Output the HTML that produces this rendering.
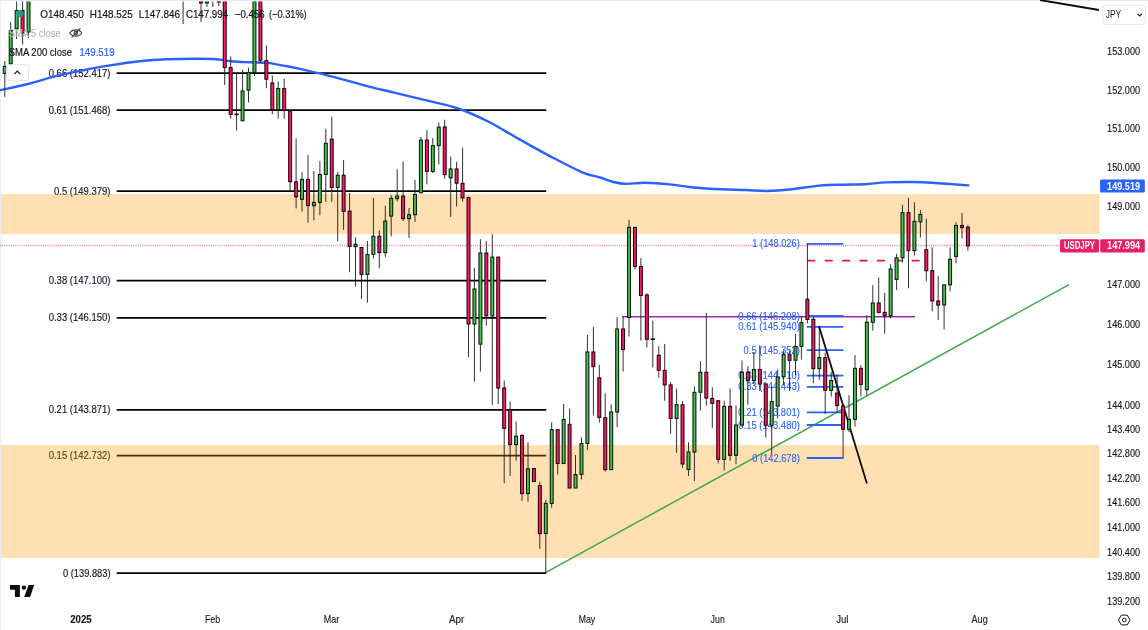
<!DOCTYPE html>
<html lang="en"><head><meta charset="utf-8"><title>USDJPY chart</title>
<style>
html,body{margin:0;padding:0;background:#fff;}
body{width:1148px;height:630px;overflow:hidden;font-family:"Liberation Sans",sans-serif;}
svg{display:block;position:absolute;left:0;top:0;}
text{font-family:"Liberation Sans",sans-serif;}
.fl{font-size:10.3px;fill:#131722;stroke:#131722;stroke-width:0.15px;}
.bl{font-size:10.3px;fill:#2962ff;stroke:#2962ff;stroke-width:0.12px;}
.ax{font-size:10.4px;fill:#131722;stroke:#131722;stroke-width:0.15px;}
.tx{font-size:10.3px;fill:#131722;stroke:#131722;stroke-width:0.12px;}
.lg{font-size:10.7px;fill:#131722;stroke:#131722;stroke-width:0.2px;}
</style></head><body>
<svg width="1148" height="630" viewBox="0 0 1148 630">
<rect x="0" y="0" width="1148" height="630" fill="#ffffff"/>
<rect x="0" y="0" width="1148" height="1" fill="#e6e8ec"/>
<rect x="0" y="0" width="1" height="630" fill="#eceef1"/>
<g id="fib">
<line x1="116.7" y1="73" x2="546.2" y2="73" stroke="#000" stroke-width="1.75"/>
<text class="fl" x="110.5" y="76.5" text-anchor="end" textLength="61.8" lengthAdjust="spacingAndGlyphs">0.66 (152.417)</text>
<line x1="116.7" y1="110" x2="546.2" y2="110" stroke="#000" stroke-width="1.75"/>
<text class="fl" x="110.5" y="113.5" text-anchor="end" textLength="61.8" lengthAdjust="spacingAndGlyphs">0.61 (151.468)</text>
<line x1="116.7" y1="191" x2="546.2" y2="191" stroke="#000" stroke-width="1.75"/>
<text class="fl" x="110.5" y="194.5" text-anchor="end" textLength="56.5" lengthAdjust="spacingAndGlyphs">0.5 (149.379)</text>
<line x1="116.7" y1="280.5" x2="546.2" y2="280.5" stroke="#000" stroke-width="1.75"/>
<text class="fl" x="110.5" y="284.0" text-anchor="end" textLength="61.8" lengthAdjust="spacingAndGlyphs">0.38 (147.100)</text>
<line x1="116.7" y1="317.8" x2="546.2" y2="317.8" stroke="#000" stroke-width="1.75"/>
<text class="fl" x="110.5" y="321.3" text-anchor="end" textLength="61.8" lengthAdjust="spacingAndGlyphs">0.33 (146.150)</text>
<line x1="116.7" y1="409.8" x2="546.2" y2="409.8" stroke="#000" stroke-width="1.75"/>
<text class="fl" x="110.5" y="413.3" text-anchor="end" textLength="61.8" lengthAdjust="spacingAndGlyphs">0.21 (143.871)</text>
<line x1="116.7" y1="455.6" x2="546.2" y2="455.6" stroke="#000" stroke-width="1.75"/>
<text class="fl" x="110.5" y="459.1" text-anchor="end" textLength="61.8" lengthAdjust="spacingAndGlyphs">0.15 (142.732)</text>
<line x1="116.7" y1="573" x2="546.2" y2="573" stroke="#000" stroke-width="1.75"/>
<text class="fl" x="110.5" y="576.5" text-anchor="end" textLength="47.5" lengthAdjust="spacingAndGlyphs">0 (139.883)</text>
</g>
<rect x="1" y="194" width="1098.5" height="40" fill="rgba(255,152,0,0.3)"/>
<rect x="1" y="445" width="1098.5" height="113" fill="rgba(255,152,0,0.3)"/>
<line x1="0" y1="245.5" x2="1060" y2="245.5" stroke="#ec3a78" stroke-width="1.7" stroke-dasharray="1.05 1.1" opacity="0.62"/>
<line x1="546" y1="572.4" x2="1069" y2="284.6" stroke="#3fa845" stroke-width="1.5"/>
<line x1="622" y1="316.8" x2="915" y2="316.8" stroke="#9c27b0" stroke-width="1.6"/>
<g id="bfib">
<line x1="806.8" y1="243.8" x2="843.4" y2="243.8" stroke="#2962ff" stroke-width="1.8"/>
<text class="bl" x="799.8" y="247.3" text-anchor="end" textLength="47.5" lengthAdjust="spacingAndGlyphs">1 (148.026)</text>
<line x1="806.8" y1="316" x2="843.4" y2="316" stroke="#2962ff" stroke-width="1.8"/>
<text class="bl" x="799.8" y="319.5" text-anchor="end" textLength="61.5" lengthAdjust="spacingAndGlyphs">0.66 (146.208)</text>
<line x1="806.8" y1="326.8" x2="843.4" y2="326.8" stroke="#2962ff" stroke-width="1.8"/>
<text class="bl" x="799.8" y="330.3" text-anchor="end" textLength="61.5" lengthAdjust="spacingAndGlyphs">0.61 (145.940)</text>
<line x1="806.8" y1="350.2" x2="843.4" y2="350.2" stroke="#2962ff" stroke-width="1.8"/>
<text class="bl" x="799.8" y="353.7" text-anchor="end" textLength="56.2" lengthAdjust="spacingAndGlyphs">0.5 (145.352)</text>
<line x1="806.8" y1="375.6" x2="843.4" y2="375.6" stroke="#2962ff" stroke-width="1.8"/>
<text class="bl" x="799.8" y="379.1" text-anchor="end" textLength="61.5" lengthAdjust="spacingAndGlyphs">0.38 (144.710)</text>
<line x1="806.8" y1="386.8" x2="843.4" y2="386.8" stroke="#2962ff" stroke-width="1.8"/>
<text class="bl" x="799.8" y="390.3" text-anchor="end" textLength="61.5" lengthAdjust="spacingAndGlyphs">0.33 (144.443)</text>
<line x1="806.8" y1="412.4" x2="843.4" y2="412.4" stroke="#2962ff" stroke-width="1.8"/>
<text class="bl" x="799.8" y="415.9" text-anchor="end" textLength="61.5" lengthAdjust="spacingAndGlyphs">0.21 (143.801)</text>
<line x1="806.8" y1="425" x2="843.4" y2="425" stroke="#2962ff" stroke-width="1.8"/>
<text class="bl" x="799.8" y="428.5" text-anchor="end" textLength="61.5" lengthAdjust="spacingAndGlyphs">0.15 (143.480)</text>
<line x1="806.8" y1="458" x2="843.4" y2="458" stroke="#2962ff" stroke-width="1.8"/>
<text class="bl" x="799.8" y="461.5" text-anchor="end" textLength="47.5" lengthAdjust="spacingAndGlyphs">0 (142.678)</text>
</g>
<line x1="807.3" y1="260.6" x2="920" y2="260.6" stroke="#f0142f" stroke-width="1.7" stroke-dasharray="8 9.4"/>
<path d="M0,90.2 C4.6,89.2 18.6,86.3 27.9,84 C37.2,81.7 46.4,78.5 55.7,76.2 C65.0,73.9 74.3,71.9 83.6,70.1 C92.9,68.2 102.2,66.6 111.5,65.1 C120.8,63.6 130.1,62.2 139.4,61.2 C148.7,60.2 157.9,59.6 167.2,59.2 C176.5,58.8 187.2,58.7 195.1,58.7 C203.0,58.7 208.5,58.6 214.6,59 C220.7,59.4 225.3,60.7 231.4,61.2 C237.5,61.8 244.9,62.0 250.9,62.3 C256.9,62.6 261.9,62.3 267.6,62.9 C273.3,63.5 279.5,64.9 284.9,65.9 C290.3,66.9 294.4,67.6 300,68.8 C305.6,70.0 312.4,71.7 318.4,73.2 C324.4,74.7 329.9,76.0 336,77.6 C342.1,79.2 349.4,81.2 354.7,82.7 C360.0,84.2 361.4,84.8 368,86.4 C374.6,88.1 384.5,90.3 394.1,92.6 C403.7,94.9 414.9,97.6 425.4,100.2 C435.8,102.8 446.4,104.5 456.8,108 C467.2,111.5 477.7,116.3 488.1,121.5 C498.6,126.7 509.0,133.6 519.5,139.4 C530.0,145.2 540.4,151.1 550.9,156.6 C561.4,162.1 574.0,168.8 582.2,172.3 C590.4,175.8 594.8,175.9 600,177.5 C605.2,179.1 609.2,180.9 613.6,182 C618.0,183.1 620.8,183.8 626.1,183.9 C631.4,184.0 638.0,182.7 645.3,182.8 C652.6,182.9 661.6,183.6 669.7,184.4 C677.8,185.2 685.3,186.7 694,187.5 C702.7,188.3 713.3,188.9 722,189.3 C730.7,189.7 738.8,189.7 746.3,190 C753.8,190.3 759.7,191.1 767.2,191 C774.8,190.9 782.9,190.2 791.6,189.3 C800.3,188.4 810.8,186.4 819.5,185.6 C828.2,184.8 836.4,184.9 843.9,184.7 C851.4,184.5 857.8,184.6 864.8,184.2 C871.8,183.8 877.6,182.8 885.7,182.4 C893.8,182.0 905.5,181.9 913.6,182 C921.7,182.1 925.4,182.4 934.5,183 C943.6,183.6 962.7,185.0 968.3,185.4" fill="none" stroke="#2962ff" stroke-width="2.4" stroke-linecap="round"/>
<line x1="818.9" y1="326.1" x2="866.9" y2="483.4" stroke="#0b0b0b" stroke-width="1.8"/>
<clipPath id="cc"><rect x="1" y="1.6" width="1147" height="628"/></clipPath>
<g id="candles" clip-path="url(#cc)">
<line x1="4.8" y1="61" x2="4.8" y2="97" stroke="#1c1c1c" stroke-width="1" opacity="0.9"/>
<rect x="3.30" y="66.4" width="2.9" height="7.0" fill="#50c054" stroke="#06200a" stroke-width="1.1"/>
<line x1="10.7" y1="22" x2="10.7" y2="67" stroke="#1c1c1c" stroke-width="1" opacity="0.9"/>
<rect x="9.25" y="30.5" width="2.9" height="33.3" fill="#50c054" stroke="#06200a" stroke-width="1.1"/>
<line x1="16.6" y1="-2" x2="16.6" y2="39" stroke="#1c1c1c" stroke-width="1" opacity="0.9"/>
<rect x="15.19" y="10.5" width="2.9" height="18.3" fill="#50c054" stroke="#06200a" stroke-width="1.1"/>
<line x1="22.6" y1="-2" x2="22.6" y2="44.5" stroke="#1c1c1c" stroke-width="1" opacity="0.9"/>
<rect x="21.14" y="10.5" width="2.9" height="22.5" fill="#f71d66" stroke="#2b0311" stroke-width="1.1"/>
<line x1="28.5" y1="-2" x2="28.5" y2="38" stroke="#1c1c1c" stroke-width="1" opacity="0.9"/>
<rect x="27.08" y="-2.0" width="2.9" height="34.0" fill="#50c054" stroke="#06200a" stroke-width="1.1"/>
<line x1="183.1" y1="-2" x2="183.1" y2="24" stroke="#1c1c1c" stroke-width="1" opacity="0.9"/>
<line x1="201.0" y1="-2" x2="201.0" y2="22" stroke="#1c1c1c" stroke-width="1" opacity="0.9"/>
<rect x="199.50" y="-2.0" width="2.9" height="5.0" fill="#f71d66" stroke="#2b0311" stroke-width="1.1"/>
<line x1="206.9" y1="-2" x2="206.9" y2="7" stroke="#1c1c1c" stroke-width="1" opacity="0.9"/>
<rect x="205.45" y="-2.0" width="2.9" height="5.0" fill="#50c054" stroke="#06200a" stroke-width="1.1"/>
<line x1="212.8" y1="-2" x2="212.8" y2="7" stroke="#1c1c1c" stroke-width="1" opacity="0.9"/>
<line x1="218.8" y1="-2" x2="218.8" y2="6" stroke="#1c1c1c" stroke-width="1" opacity="0.9"/>
<rect x="217.34" y="-2.0" width="2.9" height="4.0" fill="#f71d66" stroke="#2b0311" stroke-width="1.1"/>
<line x1="224.7" y1="-2" x2="224.7" y2="85" stroke="#1c1c1c" stroke-width="1" opacity="0.9"/>
<rect x="223.28" y="-2.0" width="2.9" height="69.6" fill="#f71d66" stroke="#2b0311" stroke-width="1.1"/>
<line x1="230.7" y1="56.4" x2="230.7" y2="118.6" stroke="#1c1c1c" stroke-width="1" opacity="0.9"/>
<rect x="229.23" y="67.6" width="2.9" height="46.8" fill="#f71d66" stroke="#2b0311" stroke-width="1.1"/>
<line x1="236.6" y1="73.9" x2="236.6" y2="130.5" stroke="#1c1c1c" stroke-width="1" opacity="0.9"/>
<rect x="234.4" y="113.6" width="4.4" height="1.6" fill="#111"/>
<line x1="242.6" y1="69.7" x2="242.6" y2="121" stroke="#1c1c1c" stroke-width="1" opacity="0.9"/>
<rect x="241.12" y="91.0" width="2.9" height="29.7" fill="#50c054" stroke="#06200a" stroke-width="1.1"/>
<line x1="248.5" y1="67.6" x2="248.5" y2="102.5" stroke="#1c1c1c" stroke-width="1" opacity="0.9"/>
<rect x="247.07" y="72.5" width="2.9" height="17.7" fill="#50c054" stroke="#06200a" stroke-width="1.1"/>
<line x1="254.5" y1="-2" x2="254.5" y2="76" stroke="#1c1c1c" stroke-width="1" opacity="0.9"/>
<rect x="253.01" y="-2.0" width="2.9" height="74.5" fill="#50c054" stroke="#06200a" stroke-width="1.1"/>
<line x1="260.4" y1="-2" x2="260.4" y2="63" stroke="#1c1c1c" stroke-width="1" opacity="0.9"/>
<rect x="258.96" y="-2.0" width="2.9" height="62.3" fill="#f71d66" stroke="#2b0311" stroke-width="1.1"/>
<line x1="266.4" y1="45.4" x2="266.4" y2="88.3" stroke="#1c1c1c" stroke-width="1" opacity="0.9"/>
<rect x="264.90" y="60.6" width="2.9" height="18.6" fill="#f71d66" stroke="#2b0311" stroke-width="1.1"/>
<line x1="272.3" y1="75.6" x2="272.3" y2="114.4" stroke="#1c1c1c" stroke-width="1" opacity="0.9"/>
<rect x="270.85" y="83.0" width="2.9" height="26.8" fill="#f71d66" stroke="#2b0311" stroke-width="1.1"/>
<line x1="278.2" y1="81.5" x2="278.2" y2="118.6" stroke="#1c1c1c" stroke-width="1" opacity="0.9"/>
<rect x="276.79" y="88.5" width="2.9" height="21.3" fill="#50c054" stroke="#06200a" stroke-width="1.1"/>
<line x1="284.2" y1="78.5" x2="284.2" y2="118.6" stroke="#1c1c1c" stroke-width="1" opacity="0.9"/>
<rect x="282.74" y="88.5" width="2.9" height="21.9" fill="#f71d66" stroke="#2b0311" stroke-width="1.1"/>
<line x1="290.1" y1="110.5" x2="290.1" y2="191" stroke="#1c1c1c" stroke-width="1" opacity="0.9"/>
<rect x="288.68" y="110.9" width="2.9" height="70.7" fill="#f71d66" stroke="#2b0311" stroke-width="1.1"/>
<line x1="296.1" y1="138.3" x2="296.1" y2="208.4" stroke="#1c1c1c" stroke-width="1" opacity="0.9"/>
<rect x="294.63" y="181.9" width="2.9" height="14.9" fill="#f71d66" stroke="#2b0311" stroke-width="1.1"/>
<line x1="302.0" y1="172" x2="302.0" y2="211.5" stroke="#1c1c1c" stroke-width="1" opacity="0.9"/>
<rect x="300.57" y="179.4" width="2.9" height="19.9" fill="#50c054" stroke="#06200a" stroke-width="1.1"/>
<line x1="308.0" y1="155" x2="308.0" y2="222.8" stroke="#1c1c1c" stroke-width="1" opacity="0.9"/>
<rect x="306.52" y="179.4" width="2.9" height="26.2" fill="#f71d66" stroke="#2b0311" stroke-width="1.1"/>
<line x1="313.9" y1="171" x2="313.9" y2="220.3" stroke="#1c1c1c" stroke-width="1" opacity="0.9"/>
<rect x="312.47" y="202.4" width="2.9" height="3.2" fill="#50c054" stroke="#06200a" stroke-width="1.1"/>
<line x1="319.9" y1="160.9" x2="319.9" y2="215.4" stroke="#1c1c1c" stroke-width="1" opacity="0.9"/>
<rect x="318.41" y="174.5" width="2.9" height="27.9" fill="#50c054" stroke="#06200a" stroke-width="1.1"/>
<line x1="325.8" y1="128.8" x2="325.8" y2="201.9" stroke="#1c1c1c" stroke-width="1" opacity="0.9"/>
<rect x="324.36" y="143.4" width="2.9" height="31.0" fill="#50c054" stroke="#06200a" stroke-width="1.1"/>
<line x1="331.8" y1="116.9" x2="331.8" y2="201.9" stroke="#1c1c1c" stroke-width="1" opacity="0.9"/>
<rect x="330.30" y="139.2" width="2.9" height="48.3" fill="#f71d66" stroke="#2b0311" stroke-width="1.1"/>
<line x1="337.7" y1="171.8" x2="337.7" y2="241.3" stroke="#1c1c1c" stroke-width="1" opacity="0.9"/>
<rect x="336.25" y="175.3" width="2.9" height="12.2" fill="#50c054" stroke="#06200a" stroke-width="1.1"/>
<line x1="343.6" y1="160" x2="343.6" y2="230" stroke="#1c1c1c" stroke-width="1" opacity="0.9"/>
<rect x="342.19" y="175.3" width="2.9" height="36.1" fill="#f71d66" stroke="#2b0311" stroke-width="1.1"/>
<line x1="349.6" y1="193" x2="349.6" y2="272.3" stroke="#1c1c1c" stroke-width="1" opacity="0.9"/>
<rect x="348.14" y="211.2" width="2.9" height="35.3" fill="#f71d66" stroke="#2b0311" stroke-width="1.1"/>
<line x1="355.5" y1="237.5" x2="355.5" y2="286.6" stroke="#1c1c1c" stroke-width="1" opacity="0.9"/>
<rect x="354.08" y="244.3" width="2.9" height="2.3" fill="#50c054" stroke="#06200a" stroke-width="1.1"/>
<line x1="361.5" y1="247" x2="361.5" y2="298.8" stroke="#1c1c1c" stroke-width="1" opacity="0.9"/>
<rect x="360.03" y="247.5" width="2.9" height="26.9" fill="#f71d66" stroke="#2b0311" stroke-width="1.1"/>
<line x1="367.4" y1="240.9" x2="367.4" y2="302.7" stroke="#1c1c1c" stroke-width="1" opacity="0.9"/>
<rect x="365.98" y="254.5" width="2.9" height="19.9" fill="#50c054" stroke="#06200a" stroke-width="1.1"/>
<line x1="373.4" y1="198" x2="373.4" y2="258.6" stroke="#1c1c1c" stroke-width="1" opacity="0.9"/>
<rect x="371.92" y="236.2" width="2.9" height="18.2" fill="#50c054" stroke="#06200a" stroke-width="1.1"/>
<line x1="379.3" y1="230.4" x2="379.3" y2="268.4" stroke="#1c1c1c" stroke-width="1" opacity="0.9"/>
<rect x="377.87" y="236.2" width="2.9" height="16.4" fill="#f71d66" stroke="#2b0311" stroke-width="1.1"/>
<line x1="385.3" y1="205.6" x2="385.3" y2="257.2" stroke="#1c1c1c" stroke-width="1" opacity="0.9"/>
<rect x="383.81" y="221.0" width="2.9" height="31.6" fill="#50c054" stroke="#06200a" stroke-width="1.1"/>
<line x1="391.2" y1="195.2" x2="391.2" y2="236.4" stroke="#1c1c1c" stroke-width="1" opacity="0.9"/>
<rect x="389.76" y="198.4" width="2.9" height="17.7" fill="#50c054" stroke="#06200a" stroke-width="1.1"/>
<line x1="397.2" y1="169.3" x2="397.2" y2="201.4" stroke="#1c1c1c" stroke-width="1" opacity="0.9"/>
<rect x="395.70" y="196.1" width="2.9" height="2.5" fill="#50c054" stroke="#06200a" stroke-width="1.1"/>
<line x1="403.1" y1="161.3" x2="403.1" y2="221" stroke="#1c1c1c" stroke-width="1" opacity="0.9"/>
<rect x="401.65" y="196.1" width="2.9" height="22.5" fill="#f71d66" stroke="#2b0311" stroke-width="1.1"/>
<line x1="409.0" y1="208" x2="409.0" y2="238" stroke="#1c1c1c" stroke-width="1" opacity="0.9"/>
<rect x="407.59" y="214.7" width="2.9" height="3.9" fill="#50c054" stroke="#06200a" stroke-width="1.1"/>
<line x1="415.0" y1="179.8" x2="415.0" y2="222" stroke="#1c1c1c" stroke-width="1" opacity="0.9"/>
<rect x="413.54" y="194.5" width="2.9" height="20.2" fill="#50c054" stroke="#06200a" stroke-width="1.1"/>
<line x1="420.9" y1="137" x2="420.9" y2="193" stroke="#1c1c1c" stroke-width="1" opacity="0.9"/>
<rect x="419.49" y="140.1" width="2.9" height="52.7" fill="#50c054" stroke="#06200a" stroke-width="1.1"/>
<line x1="426.9" y1="130.2" x2="426.9" y2="184.4" stroke="#1c1c1c" stroke-width="1" opacity="0.9"/>
<rect x="425.43" y="140.1" width="2.9" height="31.2" fill="#f71d66" stroke="#2b0311" stroke-width="1.1"/>
<line x1="432.8" y1="138.1" x2="432.8" y2="173" stroke="#1c1c1c" stroke-width="1" opacity="0.9"/>
<rect x="431.38" y="145.7" width="2.9" height="25.7" fill="#50c054" stroke="#06200a" stroke-width="1.1"/>
<line x1="438.8" y1="122.4" x2="438.8" y2="164.3" stroke="#1c1c1c" stroke-width="1" opacity="0.9"/>
<rect x="437.32" y="127.2" width="2.9" height="18.4" fill="#50c054" stroke="#06200a" stroke-width="1.1"/>
<line x1="444.7" y1="119.8" x2="444.7" y2="178.8" stroke="#1c1c1c" stroke-width="1" opacity="0.9"/>
<rect x="443.27" y="127.0" width="2.9" height="47.6" fill="#f71d66" stroke="#2b0311" stroke-width="1.1"/>
<line x1="450.7" y1="156.8" x2="450.7" y2="217" stroke="#1c1c1c" stroke-width="1" opacity="0.9"/>
<rect x="449.21" y="169.0" width="2.9" height="8.8" fill="#50c054" stroke="#06200a" stroke-width="1.1"/>
<line x1="456.6" y1="161.7" x2="456.6" y2="206.5" stroke="#1c1c1c" stroke-width="1" opacity="0.9"/>
<rect x="455.16" y="169.0" width="2.9" height="14.2" fill="#f71d66" stroke="#2b0311" stroke-width="1.1"/>
<line x1="462.6" y1="147.7" x2="462.6" y2="201.7" stroke="#1c1c1c" stroke-width="1" opacity="0.9"/>
<rect x="461.10" y="183.4" width="2.9" height="14.5" fill="#f71d66" stroke="#2b0311" stroke-width="1.1"/>
<line x1="468.5" y1="196.8" x2="468.5" y2="357.2" stroke="#1c1c1c" stroke-width="1" opacity="0.9"/>
<rect x="467.05" y="197.5" width="2.9" height="126.5" fill="#f71d66" stroke="#2b0311" stroke-width="1.1"/>
<line x1="474.4" y1="268" x2="474.4" y2="381.7" stroke="#1c1c1c" stroke-width="1" opacity="0.9"/>
<rect x="472.99" y="289.0" width="2.9" height="35.0" fill="#50c054" stroke="#06200a" stroke-width="1.1"/>
<line x1="480.4" y1="239.2" x2="480.4" y2="371.6" stroke="#1c1c1c" stroke-width="1" opacity="0.9"/>
<rect x="478.94" y="253.0" width="2.9" height="91.1" fill="#50c054" stroke="#06200a" stroke-width="1.1"/>
<line x1="486.3" y1="240.9" x2="486.3" y2="325.7" stroke="#1c1c1c" stroke-width="1" opacity="0.9"/>
<rect x="484.89" y="253.0" width="2.9" height="62.8" fill="#f71d66" stroke="#2b0311" stroke-width="1.1"/>
<line x1="492.3" y1="234.2" x2="492.3" y2="404.9" stroke="#1c1c1c" stroke-width="1" opacity="0.9"/>
<rect x="490.83" y="257.1" width="2.9" height="58.8" fill="#50c054" stroke="#06200a" stroke-width="1.1"/>
<line x1="498.2" y1="257" x2="498.2" y2="404" stroke="#1c1c1c" stroke-width="1" opacity="0.9"/>
<rect x="496.78" y="257.1" width="2.9" height="130.9" fill="#f71d66" stroke="#2b0311" stroke-width="1.1"/>
<line x1="504.2" y1="380.6" x2="504.2" y2="483.3" stroke="#1c1c1c" stroke-width="1" opacity="0.9"/>
<rect x="502.72" y="388.0" width="2.9" height="40.3" fill="#f71d66" stroke="#2b0311" stroke-width="1.1"/>
<line x1="510.1" y1="401.3" x2="510.1" y2="476" stroke="#1c1c1c" stroke-width="1" opacity="0.9"/>
<rect x="508.67" y="409.8" width="2.9" height="34.8" fill="#f71d66" stroke="#2b0311" stroke-width="1.1"/>
<line x1="516.1" y1="421.3" x2="516.1" y2="460.7" stroke="#1c1c1c" stroke-width="1" opacity="0.9"/>
<rect x="514.61" y="436.2" width="2.9" height="8.4" fill="#50c054" stroke="#06200a" stroke-width="1.1"/>
<line x1="522.0" y1="434" x2="522.0" y2="500.8" stroke="#1c1c1c" stroke-width="1" opacity="0.9"/>
<rect x="520.56" y="435.5" width="2.9" height="58.0" fill="#f71d66" stroke="#2b0311" stroke-width="1.1"/>
<line x1="528.0" y1="442.2" x2="528.0" y2="501.7" stroke="#1c1c1c" stroke-width="1" opacity="0.9"/>
<rect x="526.50" y="468.8" width="2.9" height="24.7" fill="#50c054" stroke="#06200a" stroke-width="1.1"/>
<line x1="533.9" y1="468.6" x2="533.9" y2="481.5" stroke="#1c1c1c" stroke-width="1" opacity="0.9"/>
<rect x="532.45" y="468.6" width="2.9" height="12.9" fill="#f71d66" stroke="#2b0311" stroke-width="1.1"/>
<line x1="539.8" y1="481.6" x2="539.8" y2="548.8" stroke="#1c1c1c" stroke-width="1" opacity="0.9"/>
<rect x="538.39" y="485.6" width="2.9" height="47.9" fill="#f71d66" stroke="#2b0311" stroke-width="1.1"/>
<line x1="545.8" y1="500" x2="545.8" y2="573" stroke="#1c1c1c" stroke-width="1" opacity="0.9"/>
<rect x="544.34" y="503.4" width="2.9" height="30.1" fill="#50c054" stroke="#06200a" stroke-width="1.1"/>
<line x1="551.7" y1="422.2" x2="551.7" y2="507.8" stroke="#1c1c1c" stroke-width="1" opacity="0.9"/>
<rect x="550.29" y="429.7" width="2.9" height="73.7" fill="#50c054" stroke="#06200a" stroke-width="1.1"/>
<line x1="557.7" y1="429.7" x2="557.7" y2="474.6" stroke="#1c1c1c" stroke-width="1" opacity="0.9"/>
<rect x="556.23" y="429.7" width="2.9" height="33.8" fill="#f71d66" stroke="#2b0311" stroke-width="1.1"/>
<line x1="563.6" y1="404" x2="563.6" y2="463.5" stroke="#1c1c1c" stroke-width="1" opacity="0.9"/>
<rect x="562.18" y="419.5" width="2.9" height="44.0" fill="#50c054" stroke="#06200a" stroke-width="1.1"/>
<line x1="569.6" y1="408.6" x2="569.6" y2="488" stroke="#1c1c1c" stroke-width="1" opacity="0.9"/>
<rect x="568.12" y="424.3" width="2.9" height="63.7" fill="#f71d66" stroke="#2b0311" stroke-width="1.1"/>
<line x1="575.5" y1="455" x2="575.5" y2="488" stroke="#1c1c1c" stroke-width="1" opacity="0.9"/>
<rect x="574.07" y="474.6" width="2.9" height="13.4" fill="#50c054" stroke="#06200a" stroke-width="1.1"/>
<line x1="581.5" y1="437.3" x2="581.5" y2="479.5" stroke="#1c1c1c" stroke-width="1" opacity="0.9"/>
<rect x="580.01" y="443.5" width="2.9" height="30.9" fill="#50c054" stroke="#06200a" stroke-width="1.1"/>
<line x1="587.4" y1="334.8" x2="587.4" y2="449.8" stroke="#1c1c1c" stroke-width="1" opacity="0.9"/>
<rect x="585.96" y="352.0" width="2.9" height="91.5" fill="#50c054" stroke="#06200a" stroke-width="1.1"/>
<line x1="593.4" y1="327" x2="593.4" y2="415.5" stroke="#1c1c1c" stroke-width="1" opacity="0.9"/>
<rect x="591.90" y="352.0" width="2.9" height="14.6" fill="#f71d66" stroke="#2b0311" stroke-width="1.1"/>
<line x1="599.3" y1="364.7" x2="599.3" y2="422.7" stroke="#1c1c1c" stroke-width="1" opacity="0.9"/>
<rect x="597.85" y="377.8" width="2.9" height="39.6" fill="#f71d66" stroke="#2b0311" stroke-width="1.1"/>
<line x1="605.2" y1="393.3" x2="605.2" y2="471.6" stroke="#1c1c1c" stroke-width="1" opacity="0.9"/>
<rect x="603.80" y="417.6" width="2.9" height="52.0" fill="#f71d66" stroke="#2b0311" stroke-width="1.1"/>
<line x1="611.2" y1="404.5" x2="611.2" y2="469.8" stroke="#1c1c1c" stroke-width="1" opacity="0.9"/>
<rect x="609.74" y="412.0" width="2.9" height="57.6" fill="#50c054" stroke="#06200a" stroke-width="1.1"/>
<line x1="617.1" y1="317.1" x2="617.1" y2="426.9" stroke="#1c1c1c" stroke-width="1" opacity="0.9"/>
<rect x="615.69" y="329.0" width="2.9" height="83.0" fill="#50c054" stroke="#06200a" stroke-width="1.1"/>
<line x1="623.1" y1="316.9" x2="623.1" y2="371.6" stroke="#1c1c1c" stroke-width="1" opacity="0.9"/>
<rect x="621.63" y="329.0" width="2.9" height="20.6" fill="#f71d66" stroke="#2b0311" stroke-width="1.1"/>
<line x1="629.0" y1="219.7" x2="629.0" y2="336.4" stroke="#1c1c1c" stroke-width="1" opacity="0.9"/>
<rect x="627.58" y="227.4" width="2.9" height="90.0" fill="#50c054" stroke="#06200a" stroke-width="1.1"/>
<line x1="635.0" y1="227.4" x2="635.0" y2="269.3" stroke="#1c1c1c" stroke-width="1" opacity="0.9"/>
<rect x="633.52" y="227.4" width="2.9" height="39.1" fill="#f71d66" stroke="#2b0311" stroke-width="1.1"/>
<line x1="640.9" y1="258.1" x2="640.9" y2="340.5" stroke="#1c1c1c" stroke-width="1" opacity="0.9"/>
<rect x="639.47" y="266.5" width="2.9" height="29.0" fill="#f71d66" stroke="#2b0311" stroke-width="1.1"/>
<line x1="646.9" y1="293" x2="646.9" y2="347.5" stroke="#1c1c1c" stroke-width="1" opacity="0.9"/>
<rect x="645.41" y="295.0" width="2.9" height="44.2" fill="#f71d66" stroke="#2b0311" stroke-width="1.1"/>
<line x1="652.8" y1="320.6" x2="652.8" y2="367.4" stroke="#1c1c1c" stroke-width="1" opacity="0.9"/>
<rect x="650.6" y="338.4" width="4.4" height="1.6" fill="#111"/>
<line x1="658.8" y1="346.2" x2="658.8" y2="377.7" stroke="#1c1c1c" stroke-width="1" opacity="0.9"/>
<rect x="657.30" y="355.3" width="2.9" height="15.1" fill="#f71d66" stroke="#2b0311" stroke-width="1.1"/>
<line x1="664.7" y1="344" x2="664.7" y2="400.8" stroke="#1c1c1c" stroke-width="1" opacity="0.9"/>
<rect x="663.25" y="370.4" width="2.9" height="14.5" fill="#f71d66" stroke="#2b0311" stroke-width="1.1"/>
<line x1="670.6" y1="382" x2="670.6" y2="433.6" stroke="#1c1c1c" stroke-width="1" opacity="0.9"/>
<rect x="669.20" y="384.9" width="2.9" height="33.5" fill="#f71d66" stroke="#2b0311" stroke-width="1.1"/>
<line x1="676.6" y1="388.6" x2="676.6" y2="452.8" stroke="#1c1c1c" stroke-width="1" opacity="0.9"/>
<rect x="675.14" y="404.7" width="2.9" height="13.7" fill="#50c054" stroke="#06200a" stroke-width="1.1"/>
<line x1="682.5" y1="401.2" x2="682.5" y2="468" stroke="#1c1c1c" stroke-width="1" opacity="0.9"/>
<rect x="681.09" y="404.7" width="2.9" height="59.3" fill="#f71d66" stroke="#2b0311" stroke-width="1.1"/>
<line x1="688.5" y1="442.4" x2="688.5" y2="476" stroke="#1c1c1c" stroke-width="1" opacity="0.9"/>
<rect x="687.03" y="452.0" width="2.9" height="17.5" fill="#50c054" stroke="#06200a" stroke-width="1.1"/>
<line x1="694.4" y1="386.3" x2="694.4" y2="481" stroke="#1c1c1c" stroke-width="1" opacity="0.9"/>
<rect x="692.98" y="392.4" width="2.9" height="59.6" fill="#50c054" stroke="#06200a" stroke-width="1.1"/>
<line x1="700.4" y1="361.2" x2="700.4" y2="410.6" stroke="#1c1c1c" stroke-width="1" opacity="0.9"/>
<rect x="698.92" y="372.3" width="2.9" height="19.9" fill="#50c054" stroke="#06200a" stroke-width="1.1"/>
<line x1="706.3" y1="312.7" x2="706.3" y2="405.7" stroke="#1c1c1c" stroke-width="1" opacity="0.9"/>
<rect x="704.87" y="372.3" width="2.9" height="25.7" fill="#f71d66" stroke="#2b0311" stroke-width="1.1"/>
<line x1="712.3" y1="387.2" x2="712.3" y2="427.8" stroke="#1c1c1c" stroke-width="1" opacity="0.9"/>
<rect x="710.81" y="398.4" width="2.9" height="4.9" fill="#f71d66" stroke="#2b0311" stroke-width="1.1"/>
<line x1="718.2" y1="400" x2="718.2" y2="463.5" stroke="#1c1c1c" stroke-width="1" opacity="0.9"/>
<rect x="716.76" y="400.8" width="2.9" height="58.5" fill="#f71d66" stroke="#2b0311" stroke-width="1.1"/>
<line x1="724.2" y1="400.8" x2="724.2" y2="470.5" stroke="#1c1c1c" stroke-width="1" opacity="0.9"/>
<rect x="722.71" y="406.4" width="2.9" height="52.9" fill="#50c054" stroke="#06200a" stroke-width="1.1"/>
<line x1="730.1" y1="388.6" x2="730.1" y2="460.7" stroke="#1c1c1c" stroke-width="1" opacity="0.9"/>
<rect x="728.65" y="406.4" width="2.9" height="49.0" fill="#f71d66" stroke="#2b0311" stroke-width="1.1"/>
<line x1="736.0" y1="405.4" x2="736.0" y2="464.2" stroke="#1c1c1c" stroke-width="1" opacity="0.9"/>
<rect x="734.60" y="425.0" width="2.9" height="30.4" fill="#50c054" stroke="#06200a" stroke-width="1.1"/>
<line x1="742.0" y1="360.5" x2="742.0" y2="427" stroke="#1c1c1c" stroke-width="1" opacity="0.9"/>
<rect x="740.54" y="372.3" width="2.9" height="52.7" fill="#50c054" stroke="#06200a" stroke-width="1.1"/>
<line x1="747.9" y1="366" x2="747.9" y2="404.7" stroke="#1c1c1c" stroke-width="1" opacity="0.9"/>
<rect x="746.49" y="372.3" width="2.9" height="8.4" fill="#f71d66" stroke="#2b0311" stroke-width="1.1"/>
<line x1="753.9" y1="352" x2="753.9" y2="384.5" stroke="#1c1c1c" stroke-width="1" opacity="0.9"/>
<rect x="752.43" y="369.5" width="2.9" height="11.2" fill="#50c054" stroke="#06200a" stroke-width="1.1"/>
<line x1="759.8" y1="345" x2="759.8" y2="391" stroke="#1c1c1c" stroke-width="1" opacity="0.9"/>
<rect x="758.38" y="369.5" width="2.9" height="14.5" fill="#f71d66" stroke="#2b0311" stroke-width="1.1"/>
<line x1="765.8" y1="384" x2="765.8" y2="437.7" stroke="#1c1c1c" stroke-width="1" opacity="0.9"/>
<rect x="764.32" y="384.0" width="2.9" height="41.3" fill="#f71d66" stroke="#2b0311" stroke-width="1.1"/>
<line x1="771.7" y1="385.9" x2="771.7" y2="454" stroke="#1c1c1c" stroke-width="1" opacity="0.9"/>
<rect x="770.27" y="401.6" width="2.9" height="23.7" fill="#50c054" stroke="#06200a" stroke-width="1.1"/>
<line x1="777.7" y1="369.4" x2="777.7" y2="418.4" stroke="#1c1c1c" stroke-width="1" opacity="0.9"/>
<rect x="776.21" y="377.0" width="2.9" height="29.1" fill="#50c054" stroke="#06200a" stroke-width="1.1"/>
<line x1="783.6" y1="350.5" x2="783.6" y2="385.3" stroke="#1c1c1c" stroke-width="1" opacity="0.9"/>
<rect x="782.16" y="354.7" width="2.9" height="22.0" fill="#50c054" stroke="#06200a" stroke-width="1.1"/>
<line x1="789.6" y1="350.5" x2="789.6" y2="391" stroke="#1c1c1c" stroke-width="1" opacity="0.9"/>
<rect x="788.11" y="354.7" width="2.9" height="5.6" fill="#f71d66" stroke="#2b0311" stroke-width="1.1"/>
<line x1="795.5" y1="333.8" x2="795.5" y2="375" stroke="#1c1c1c" stroke-width="1" opacity="0.9"/>
<rect x="794.05" y="346.5" width="2.9" height="13.7" fill="#50c054" stroke="#06200a" stroke-width="1.1"/>
<line x1="801.4" y1="316.6" x2="801.4" y2="359.5" stroke="#1c1c1c" stroke-width="1" opacity="0.9"/>
<rect x="800.00" y="322.6" width="2.9" height="23.8" fill="#50c054" stroke="#06200a" stroke-width="1.1"/>
<line x1="807.4" y1="243.8" x2="807.4" y2="323.3" stroke="#1c1c1c" stroke-width="1" opacity="0.9"/>
<rect x="805.94" y="299.3" width="2.9" height="20.1" fill="#f71d66" stroke="#2b0311" stroke-width="1.1"/>
<line x1="813.3" y1="317" x2="813.3" y2="383.3" stroke="#1c1c1c" stroke-width="1" opacity="0.9"/>
<rect x="811.89" y="319.4" width="2.9" height="49.2" fill="#f71d66" stroke="#2b0311" stroke-width="1.1"/>
<line x1="819.3" y1="326.1" x2="819.3" y2="379.8" stroke="#1c1c1c" stroke-width="1" opacity="0.9"/>
<rect x="817.83" y="357.5" width="2.9" height="11.1" fill="#50c054" stroke="#06200a" stroke-width="1.1"/>
<line x1="825.2" y1="352.7" x2="825.2" y2="414" stroke="#1c1c1c" stroke-width="1" opacity="0.9"/>
<rect x="823.78" y="357.6" width="2.9" height="32.7" fill="#f71d66" stroke="#2b0311" stroke-width="1.1"/>
<line x1="831.2" y1="372" x2="831.2" y2="396.6" stroke="#1c1c1c" stroke-width="1" opacity="0.9"/>
<rect x="829.72" y="380.5" width="2.9" height="9.8" fill="#50c054" stroke="#06200a" stroke-width="1.1"/>
<line x1="837.1" y1="374.2" x2="837.1" y2="412.7" stroke="#1c1c1c" stroke-width="1" opacity="0.9"/>
<rect x="835.67" y="393.1" width="2.9" height="12.4" fill="#f71d66" stroke="#2b0311" stroke-width="1.1"/>
<line x1="843.1" y1="405" x2="843.1" y2="458.2" stroke="#1c1c1c" stroke-width="1" opacity="0.9"/>
<rect x="841.62" y="406.0" width="2.9" height="23.3" fill="#f71d66" stroke="#2b0311" stroke-width="1.1"/>
<line x1="849.0" y1="395.2" x2="849.0" y2="432" stroke="#1c1c1c" stroke-width="1" opacity="0.9"/>
<rect x="847.56" y="419.4" width="2.9" height="9.9" fill="#50c054" stroke="#06200a" stroke-width="1.1"/>
<line x1="855.0" y1="355.1" x2="855.0" y2="426.6" stroke="#1c1c1c" stroke-width="1" opacity="0.9"/>
<rect x="853.51" y="368.4" width="2.9" height="51.0" fill="#50c054" stroke="#06200a" stroke-width="1.1"/>
<line x1="860.9" y1="365.2" x2="860.9" y2="396.6" stroke="#1c1c1c" stroke-width="1" opacity="0.9"/>
<rect x="859.45" y="368.4" width="2.9" height="16.0" fill="#f71d66" stroke="#2b0311" stroke-width="1.1"/>
<line x1="866.8" y1="315.2" x2="866.8" y2="395.2" stroke="#1c1c1c" stroke-width="1" opacity="0.9"/>
<rect x="865.40" y="322.3" width="2.9" height="67.3" fill="#50c054" stroke="#06200a" stroke-width="1.1"/>
<line x1="872.8" y1="285.2" x2="872.8" y2="330.6" stroke="#1c1c1c" stroke-width="1" opacity="0.9"/>
<rect x="871.34" y="303.0" width="2.9" height="19.3" fill="#50c054" stroke="#06200a" stroke-width="1.1"/>
<line x1="878.7" y1="277.3" x2="878.7" y2="313.5" stroke="#1c1c1c" stroke-width="1" opacity="0.9"/>
<rect x="877.29" y="303.0" width="2.9" height="9.4" fill="#f71d66" stroke="#2b0311" stroke-width="1.1"/>
<line x1="884.7" y1="292.7" x2="884.7" y2="333.8" stroke="#1c1c1c" stroke-width="1" opacity="0.9"/>
<rect x="883.23" y="312.4" width="2.9" height="3.2" fill="#f71d66" stroke="#2b0311" stroke-width="1.1"/>
<line x1="890.6" y1="264.2" x2="890.6" y2="318.4" stroke="#1c1c1c" stroke-width="1" opacity="0.9"/>
<rect x="889.18" y="269.0" width="2.9" height="46.6" fill="#50c054" stroke="#06200a" stroke-width="1.1"/>
<line x1="896.6" y1="253.8" x2="896.6" y2="290" stroke="#1c1c1c" stroke-width="1" opacity="0.9"/>
<rect x="895.12" y="257.8" width="2.9" height="21.6" fill="#50c054" stroke="#06200a" stroke-width="1.1"/>
<line x1="902.5" y1="204.8" x2="902.5" y2="262.5" stroke="#1c1c1c" stroke-width="1" opacity="0.9"/>
<rect x="901.07" y="212.7" width="2.9" height="45.1" fill="#50c054" stroke="#06200a" stroke-width="1.1"/>
<line x1="908.5" y1="197.9" x2="908.5" y2="288.3" stroke="#1c1c1c" stroke-width="1" opacity="0.9"/>
<rect x="907.02" y="212.7" width="2.9" height="37.9" fill="#f71d66" stroke="#2b0311" stroke-width="1.1"/>
<line x1="914.4" y1="202.2" x2="914.4" y2="255.5" stroke="#1c1c1c" stroke-width="1" opacity="0.9"/>
<rect x="912.96" y="221.4" width="2.9" height="29.2" fill="#50c054" stroke="#06200a" stroke-width="1.1"/>
<line x1="920.4" y1="210" x2="920.4" y2="237.5" stroke="#1c1c1c" stroke-width="1" opacity="0.9"/>
<rect x="918.91" y="214.5" width="2.9" height="7.3" fill="#50c054" stroke="#06200a" stroke-width="1.1"/>
<line x1="926.3" y1="218.8" x2="926.3" y2="281.2" stroke="#1c1c1c" stroke-width="1" opacity="0.9"/>
<rect x="924.85" y="249.7" width="2.9" height="21.0" fill="#f71d66" stroke="#2b0311" stroke-width="1.1"/>
<line x1="932.2" y1="247.3" x2="932.2" y2="311.4" stroke="#1c1c1c" stroke-width="1" opacity="0.9"/>
<rect x="930.80" y="270.7" width="2.9" height="30.3" fill="#f71d66" stroke="#2b0311" stroke-width="1.1"/>
<line x1="938.2" y1="276" x2="938.2" y2="319.8" stroke="#1c1c1c" stroke-width="1" opacity="0.9"/>
<rect x="936.74" y="301.0" width="2.9" height="4.1" fill="#f71d66" stroke="#2b0311" stroke-width="1.1"/>
<line x1="944.1" y1="284.8" x2="944.1" y2="329.6" stroke="#1c1c1c" stroke-width="1" opacity="0.9"/>
<rect x="942.69" y="284.9" width="2.9" height="20.0" fill="#50c054" stroke="#06200a" stroke-width="1.1"/>
<line x1="950.1" y1="247.3" x2="950.1" y2="291.3" stroke="#1c1c1c" stroke-width="1" opacity="0.9"/>
<rect x="948.63" y="259.3" width="2.9" height="25.5" fill="#50c054" stroke="#06200a" stroke-width="1.1"/>
<line x1="956.0" y1="222.3" x2="956.0" y2="263.4" stroke="#1c1c1c" stroke-width="1" opacity="0.9"/>
<rect x="954.58" y="225.5" width="2.9" height="30.9" fill="#50c054" stroke="#06200a" stroke-width="1.1"/>
<line x1="962.0" y1="213" x2="962.0" y2="238.6" stroke="#1c1c1c" stroke-width="1" opacity="0.9"/>
<rect x="960.53" y="225.5" width="2.9" height="2.1" fill="#f71d66" stroke="#2b0311" stroke-width="1.1"/>
<line x1="967.9" y1="225" x2="967.9" y2="250.8" stroke="#1c1c1c" stroke-width="1" opacity="0.9"/>
<rect x="966.47" y="227.2" width="2.9" height="18.7" fill="#f71d66" stroke="#2b0311" stroke-width="1.1"/>
</g>
<line x1="1040" y1="0" x2="1099" y2="10" stroke="#0b0b0b" stroke-width="1.8"/>
<g id="axis">
<text class="ax" x="1107.1" y="55.0" textLength="33" lengthAdjust="spacingAndGlyphs">153.000</text>
<text class="ax" x="1107.1" y="93.5" textLength="33" lengthAdjust="spacingAndGlyphs">152.000</text>
<text class="ax" x="1107.1" y="132.0" textLength="33" lengthAdjust="spacingAndGlyphs">151.000</text>
<text class="ax" x="1107.1" y="170.5" textLength="33" lengthAdjust="spacingAndGlyphs">150.000</text>
<text class="ax" x="1107.1" y="209.5" textLength="33" lengthAdjust="spacingAndGlyphs">149.000</text>
<text class="ax" x="1107.1" y="288.2" textLength="33" lengthAdjust="spacingAndGlyphs">147.000</text>
<text class="ax" x="1107.1" y="327.8" textLength="33" lengthAdjust="spacingAndGlyphs">146.000</text>
<text class="ax" x="1107.1" y="367.5" textLength="33" lengthAdjust="spacingAndGlyphs">145.000</text>
<text class="ax" x="1107.1" y="408.7" textLength="33" lengthAdjust="spacingAndGlyphs">144.000</text>
<text class="ax" x="1107.1" y="432.5" textLength="33" lengthAdjust="spacingAndGlyphs">143.400</text>
<text class="ax" x="1107.1" y="456.5" textLength="33" lengthAdjust="spacingAndGlyphs">142.800</text>
<text class="ax" x="1107.1" y="481.6" textLength="33" lengthAdjust="spacingAndGlyphs">142.200</text>
<text class="ax" x="1107.1" y="506.2" textLength="33" lengthAdjust="spacingAndGlyphs">141.600</text>
<text class="ax" x="1107.1" y="530.5" textLength="33" lengthAdjust="spacingAndGlyphs">141.000</text>
<text class="ax" x="1107.1" y="555.7" textLength="33" lengthAdjust="spacingAndGlyphs">140.400</text>
<text class="ax" x="1107.1" y="580.4" textLength="33" lengthAdjust="spacingAndGlyphs">139.800</text>
<text class="ax" x="1107.1" y="604.8" textLength="33" lengthAdjust="spacingAndGlyphs">139.200</text>
</g>
<rect x="1100.1" y="179.4" width="44.7" height="13" rx="1.2" fill="#2962ff"/>
<text x="1107.1" y="189.6" font-size="10.3" font-weight="bold" fill="#fff" textLength="33" lengthAdjust="spacingAndGlyphs">149.519</text>
<rect x="1060" y="239.3" width="39" height="13.1" rx="1.5" fill="#e91e63"/>
<rect x="1100.2" y="239.3" width="44.6" height="13.1" rx="1.5" fill="#e91e63"/>
<text x="1064" y="249.2" font-size="10.3" font-weight="bold" fill="#fff" textLength="31" lengthAdjust="spacingAndGlyphs">USDJPY</text>
<text x="1107.1" y="249.2" font-size="10.3" font-weight="bold" fill="#fff" textLength="33" lengthAdjust="spacingAndGlyphs">147.994</text>
<rect x="1102.8" y="5" width="42.5" height="19.5" rx="3" fill="#fff" stroke="#e6e8ee" stroke-width="1"/>
<text x="1105.8" y="17.8" font-size="10" fill="#131722" textLength="15.4" lengthAdjust="spacingAndGlyphs">JPY</text>
<path d="M1137.6,13.8 L1139.7,15.9 L1141.8,13.8" fill="none" stroke="#131722" stroke-width="1.1"/>
<text class="tx" x="81" y="622.6" text-anchor="middle" font-weight="bold" textLength="21.5" lengthAdjust="spacingAndGlyphs">2025</text>
<text class="tx" x="212.6" y="622.6" text-anchor="middle" textLength="15.3" lengthAdjust="spacingAndGlyphs">Feb</text>
<text class="tx" x="331.4" y="622.6" text-anchor="middle" textLength="15.5" lengthAdjust="spacingAndGlyphs">Mar</text>
<text class="tx" x="456.7" y="622.6" text-anchor="middle" textLength="15.4" lengthAdjust="spacingAndGlyphs">Apr</text>
<text class="tx" x="586.9" y="622.6" text-anchor="middle" textLength="16.5" lengthAdjust="spacingAndGlyphs">May</text>
<text class="tx" x="717.7" y="622.6" text-anchor="middle" textLength="14.2" lengthAdjust="spacingAndGlyphs">Jun</text>
<text class="tx" x="842.3" y="622.6" text-anchor="middle" textLength="12.3" lengthAdjust="spacingAndGlyphs">Jul</text>
<text class="tx" x="979.6" y="622.6" text-anchor="middle" textLength="16.2" lengthAdjust="spacingAndGlyphs">Aug</text>
<g transform="translate(1124.3,620)" fill="none" stroke="#131722" stroke-width="1"><path d="M-2.9,-4.9 L2.9,-4.9 L5.8,0 L2.9,4.9 L-2.9,4.9 L-5.8,0 Z" stroke-linejoin="round"/><circle r="1.9"/></g>
<g fill="#0d0a0a"><path d="M9.96,585 H19.9 V597 H14.9 V589.7 H9.96 Z"/><circle cx="23.95" cy="587.6" r="2.2"/><path d="M28.6,585 H34.1 L30.1,597 H24.1 Z"/></g>
<circle cx="20" cy="13.6" r="3.6" fill="#169b8c" opacity="0.95"/>
<text class="lg" x="40.2" y="17.6" textLength="43.6" lengthAdjust="spacingAndGlyphs">O148.450</text>
<text class="lg" x="89.8" y="17.6" textLength="43" lengthAdjust="spacingAndGlyphs">H148.525</text>
<text class="lg" x="138.7" y="17.6" textLength="41.3" lengthAdjust="spacingAndGlyphs">L147.846</text>
<text class="lg" x="185.9" y="17.6" textLength="42.2" lengthAdjust="spacingAndGlyphs">C147.994</text>
<text class="lg" x="234.8" y="17.6" textLength="29.7" lengthAdjust="spacingAndGlyphs">−0.456</text>
<text class="lg" x="269" y="17.6" textLength="37.7" lengthAdjust="spacingAndGlyphs">(−0.31%)</text>
<text class="lg" x="8.7" y="36.6" textLength="52" lengthAdjust="spacingAndGlyphs" style="fill:#b4b7c0;stroke:#b4b7c0">SMA 5 close</text>
<g transform="translate(75.8,33)" fill="none" stroke="#3c3f49" stroke-width="1.15"><path d="M-6,0 C-3.5,-4.2 3.5,-4.2 6,0 C3.5,4.2 -3.5,4.2 -6,0 Z"/><circle r="1.7"/><line x1="-4.2" y1="4.4" x2="4.6" y2="-4.6"/></g>
<text class="lg" x="8.7" y="55.6" textLength="63.3" lengthAdjust="spacingAndGlyphs">SMA 200 close</text>
<text class="lg" x="79.4" y="55.6" style="fill:#2962ff;stroke:#2962ff" textLength="35.2" lengthAdjust="spacingAndGlyphs">149.519</text>
<rect x="6.5" y="64.8" width="22" height="15.6" rx="2.5" fill="#fff" fill-opacity="0.92" stroke="#e0e3eb" stroke-width="1"/>
<path d="M14.3,74.2 L17.3,71.2 L20.3,74.2" fill="none" stroke="#131722" stroke-width="1.2"/>
</svg></body></html>
